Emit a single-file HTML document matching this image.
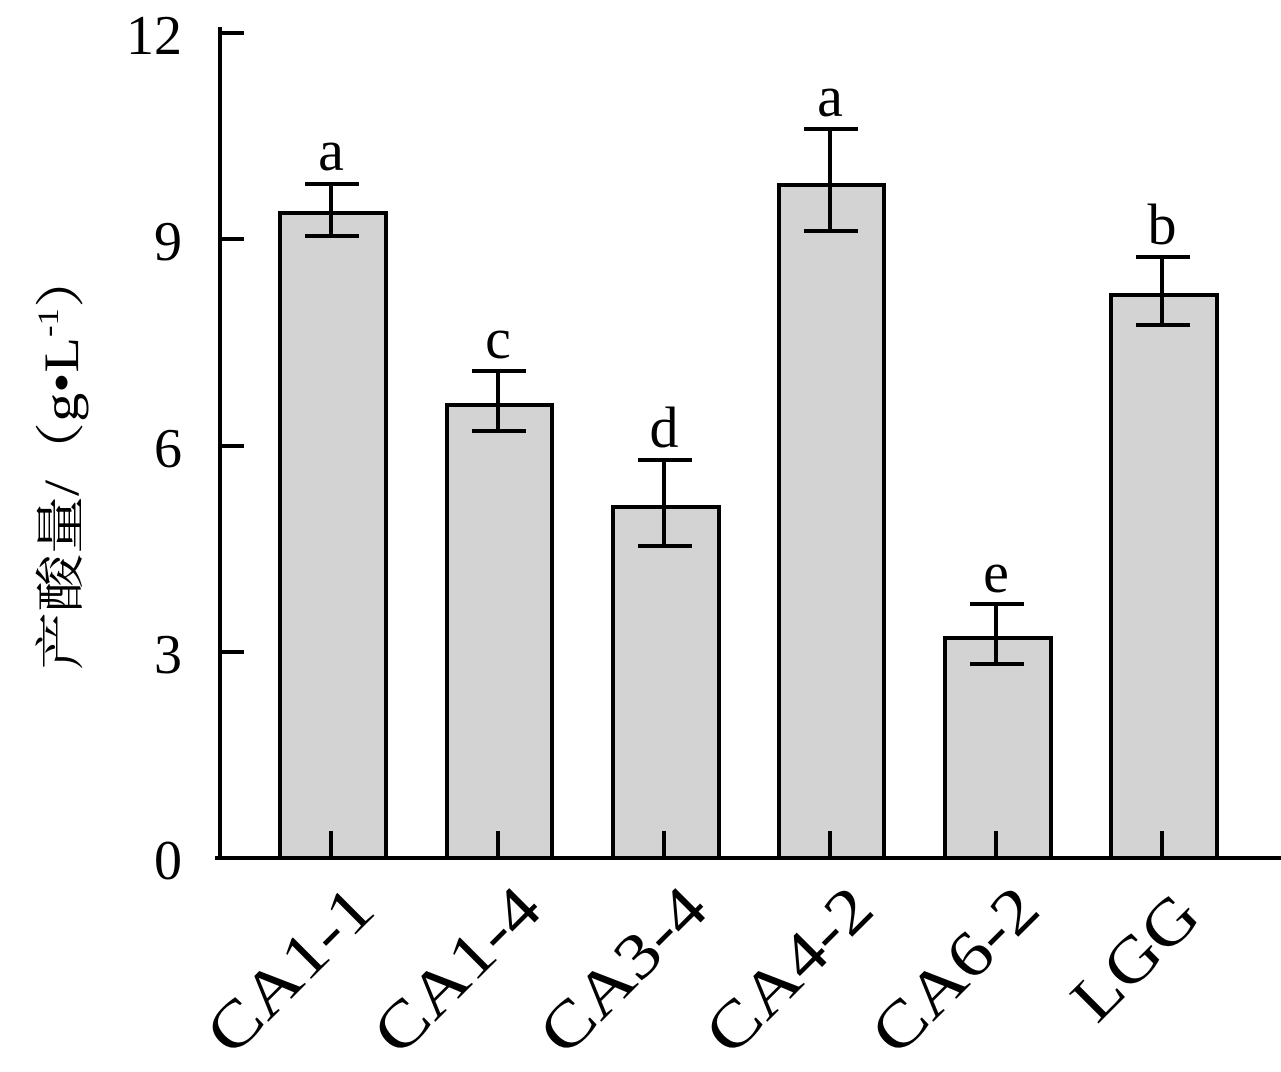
<!DOCTYPE html>
<html><head><meta charset="utf-8"><style>html,body{margin:0;padding:0;background:#fff}</style></head>
<body>
<svg width="1281" height="1067" viewBox="0 0 1281 1067" xmlns="http://www.w3.org/2000/svg" font-family="'Liberation Serif','Noto Serif CJK SC',serif">
<rect width="1281" height="1067" fill="#fff"/>
<g stroke="#000" stroke-width="4" fill="#d3d3d3">
<rect x="280" y="213" width="106" height="645"/>
<rect x="447" y="405" width="105" height="453"/>
<rect x="613" y="507" width="106" height="351"/>
<rect x="779" y="185" width="105" height="673"/>
<rect x="945" y="638" width="106" height="220"/>
<rect x="1111" y="295" width="106" height="563"/>
</g>
<g stroke="#000" stroke-width="4" fill="none">
<line x1="220" y1="27" x2="220" y2="860"/>
<line x1="215" y1="858" x2="1281" y2="858"/>
<line x1="220" y1="33" x2="244" y2="33"/>
<line x1="220" y1="239" x2="244" y2="239"/>
<line x1="220" y1="446" x2="244" y2="446"/>
<line x1="220" y1="652" x2="244" y2="652"/>
<line x1="331" y1="831" x2="331" y2="858"/>
<line x1="498" y1="831" x2="498" y2="858"/>
<line x1="664" y1="831" x2="664" y2="858"/>
<line x1="830" y1="831" x2="830" y2="858"/>
<line x1="996" y1="831" x2="996" y2="858"/>
<line x1="1162" y1="831" x2="1162" y2="858"/>
<path d="M305 184H359M331 184V236M305 236H359"/>
<path d="M472 371H526M498 371V431M472 431H526"/>
<path d="M638 460H692M664 460V546M638 546H692"/>
<path d="M804 129H858M830 129V231M804 231H858"/>
<path d="M970 604H1024M996 604V664M970 664H1024"/>
<path d="M1136 257H1190M1162 257V325M1136 325H1190"/>
</g>
<g font-size="56" text-anchor="end" fill="#000">
<text x="182" y="54">12</text>
<text x="182" y="260">9</text>
<text x="182" y="467">6</text>
<text x="182" y="673">3</text>
<text x="182" y="879">0</text>
</g>
<g font-size="58" text-anchor="middle" fill="#000">
<text x="331" y="170">a</text>
<text x="498" y="358">c</text>
<text x="664" y="447">d</text>
<text x="830" y="116">a</text>
<text x="996" y="592">e</text>
<text x="1162" y="244">b</text>
</g>
<g font-size="64" fill="#000">
<text transform="translate(232,1058) rotate(-45)" textLength="206" lengthAdjust="spacingAndGlyphs">CA1-1</text>
<text transform="translate(399,1058) rotate(-45)" textLength="206" lengthAdjust="spacingAndGlyphs">CA1-4</text>
<text transform="translate(565,1058) rotate(-45)" textLength="206" lengthAdjust="spacingAndGlyphs">CA3-4</text>
<text transform="translate(731,1058) rotate(-45)" textLength="206" lengthAdjust="spacingAndGlyphs">CA4-2</text>
<text transform="translate(897,1058) rotate(-45)" textLength="206" lengthAdjust="spacingAndGlyphs">CA6-2</text>
<text transform="translate(1097,1025) rotate(-45)" textLength="150" lengthAdjust="spacingAndGlyphs">LGG</text>
</g>
<text transform="translate(78,670) rotate(-90)" font-size="50" fill="#000" textLength="420" lengthAdjust="spacingAndGlyphs">产酸量/（g•L<tspan font-size="30" dy="-20">-1</tspan><tspan dy="20">）</tspan></text>
</svg>
</body></html>
